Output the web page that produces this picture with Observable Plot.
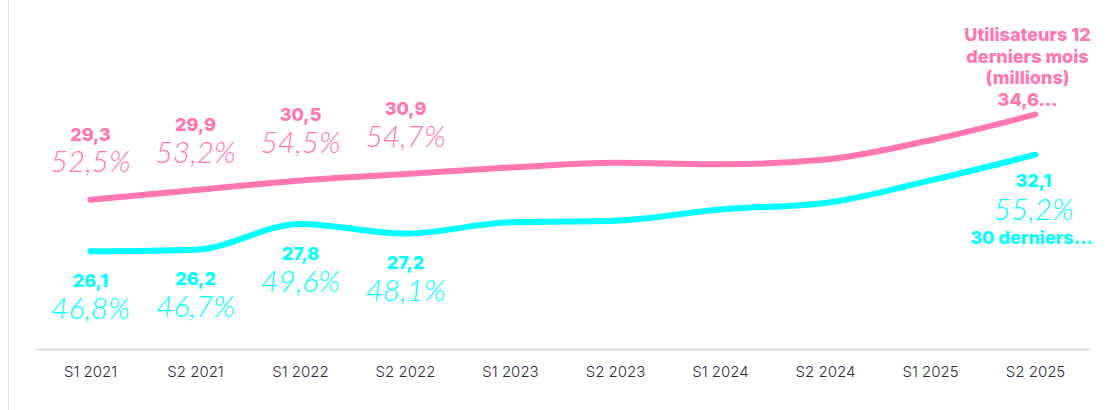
<!DOCTYPE html>
<html>
<head>
<meta charset="utf-8">
<script src="https://cdn.jsdelivr.net/npm/d3@7"></script>
<script src="https://cdn.jsdelivr.net/npm/@observablehq/plot@0.6"></script>
<style>
  html, body { margin: 0; padding: 0; background: #fff; }
  #wrap { position: relative; width: 1108px; height: 410px; overflow: hidden; }
  #edge { position: absolute; left: 8px; top: 0; width: 1px; height: 410px; background: #e2e2e2; }
  #chart { position: absolute; left: 0; top: 0; }
  #chart g[aria-label="x-axis tick label"] { font-weight: 300; }
</style>
</head>
<body>
<div id="wrap"><div id="edge"></div><div id="chart"></div></div>
<script>
// ---- data ----
const periods = ["S1 2021","S2 2021","S1 2022","S2 2022","S1 2023","S2 2023","S1 2024","S2 2024","S1 2025","S2 2025"];
const users12m = [29.3, 29.9, 30.5, 30.9, 31.3, 31.6, 31.5, 31.8, 33.0, 34.6];
const pct12m   = [52.5, 53.2, 54.5, 54.7, null, null, null, null, null, null];
const users30d = [26.1, 26.2, 27.8, 27.2, 27.9, 28.0, 28.7, 29.1, 30.5, 32.1];
const pct30d   = [46.8, 46.7, 49.6, 48.1, null, null, null, null, null, 55.2];
const labeledIdx = [0, 1, 2, 3];
const seriesName12m = "Utilisateurs 12 derniers mois (millions)";
const seriesName30d = "30 derniers…";

const PINK = "#ff76b1";
const CYAN = "#00ffff";
const fmt = v => v.toFixed(1).replace(".", ",");
const fmtPct = v => v.toFixed(1).replace(".", ",") + "%";
function wrap(s, max) {
  const words = s.split(" "); const lines = []; let cur = "";
  for (const w of words) {
    if (cur && (cur + " " + w).length > max) { lines.push(cur); cur = w; }
    else cur = cur ? cur + " " + w : w;
  }
  if (cur) lines.push(cur);
  return lines.join("\n");
}

const pink = periods.map((p, i) => ({period: p, value: users12m[i], pct: pct12m[i], i}));
const cyan = periods.map((p, i) => ({period: p, value: users30d[i], pct: pct30d[i], i}));
const last = periods.length - 1;

const pinkLab = pink.filter(d => labeledIdx.includes(d.i));
const cyanLab = cyan.filter(d => labeledIdx.includes(d.i));
const pinkLast = [pink[last]];
const cyanLast = [cyan[last]];

const numStyle = {fontSize: 18, fontWeight: 800, fontFamily: "Inter, sans-serif"};
const pctStyle = {fontSize: 30, fontWeight: 300, fontStyle: "italic", fontFamily: "Lato, sans-serif"};

const chart = Plot.plot({
  width: 1108,
  height: 410,
  marginLeft: 35,
  marginRight: 18,
  marginTop: 27,
  marginBottom: 61,
  style: {fontFamily: "Inter, sans-serif", background: "transparent"},
  x: {type: "point", domain: periods, padding: 0.5, label: null},
  y: {domain: [20, 40], axis: null},
  marks: [
    Plot.ruleY([20], {stroke: "#dedede", strokeWidth: 2}),
    Plot.axisX({tickSize: 0, tickPadding: 17, fontSize: 15, fontWeight: 300, color: "#2a2c42", label: null}),
    Plot.line(pink, {x: "period", y: "value", stroke: PINK, strokeWidth: 6, curve: "monotone-x", strokeLinecap: "round"}),
    Plot.line(cyan, {x: "period", y: "value", stroke: CYAN, strokeWidth: 6, curve: "monotone-x", strokeLinecap: "round"}),
    // pink labels above
    Plot.text(pinkLab, {x: "period", y: "value", text: d => fmt(d.value), dy: -65, fill: PINK, ...numStyle}),
    Plot.text(pinkLab, {x: "period", y: "value", text: d => fmtPct(d.pct), dy: -37, fill: PINK, ...pctStyle}),
    // cyan labels below
    Plot.text(cyanLab, {x: "period", y: "value", text: d => fmt(d.value), dy: 30, fill: CYAN, ...numStyle}),
    Plot.text(cyanLab, {x: "period", y: "value", text: d => fmtPct(d.pct), dy: 58, fill: CYAN, ...pctStyle}),
    // end labels
    Plot.text(pinkLast, {x: "period", y: "value", text: d => wrap(seriesName12m, 15) + "\n" + fmt(d.value) + "…",
      dy: -48, dx: -8, lineHeight: 1.21, fill: PINK, ...numStyle}),
    Plot.text(cyanLast, {x: "period", y: "value", text: d => fmt(d.value), dy: 27, dx: -2, fill: CYAN, ...numStyle}),
    Plot.text(cyanLast, {x: "period", y: "value", text: d => fmtPct(d.pct), dy: 56, dx: -2, fill: CYAN, ...pctStyle}),
    Plot.text(cyanLast, {x: "period", y: "value", text: () => seriesName30d, dy: 84, dx: -4, fill: CYAN, ...numStyle})
  ]
});
document.getElementById("chart").appendChild(chart);
</script>
</body>
</html>
